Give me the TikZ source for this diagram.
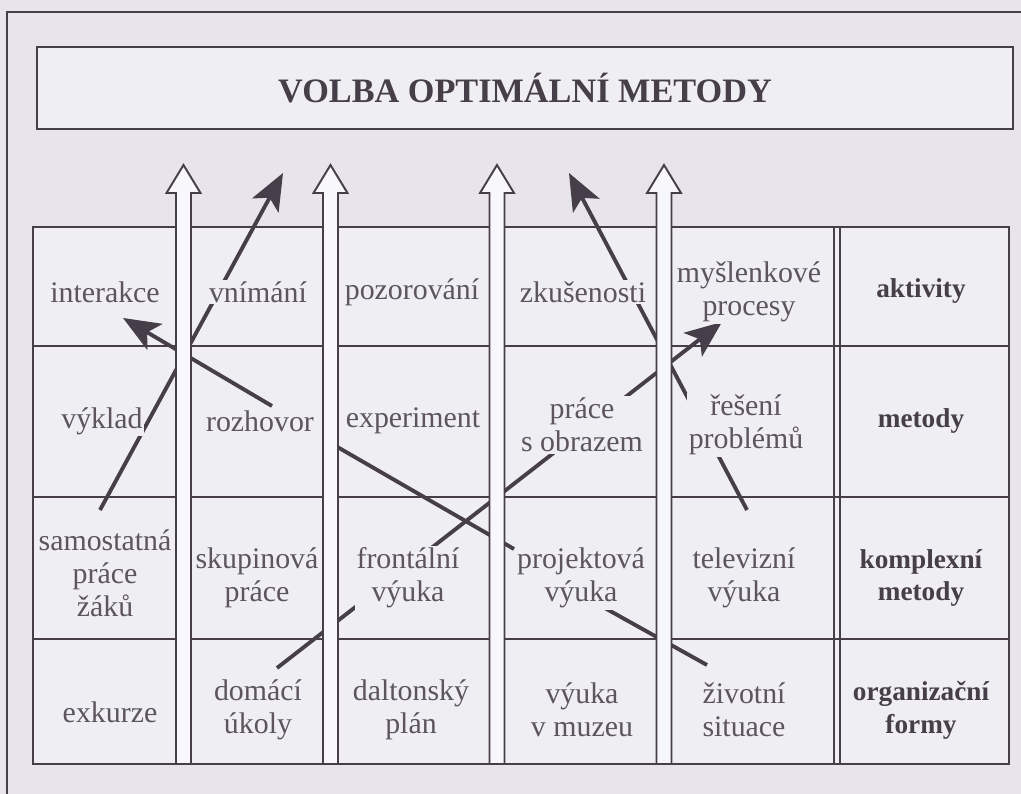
\documentclass[tikz,border=0pt]{standalone}
\usepackage{fontspec}
\setmainfont{Liberation Serif}
\usetikzlibrary{calc}
\usetikzlibrary{arrows.meta}

\definecolor{paper}{RGB}{231,229,235}
\definecolor{cellbg}{RGB}{239,238,243}
\definecolor{ink}{RGB}{70,62,72}
\definecolor{txt}{RGB}{92,84,94}
\definecolor{shaft}{RGB}{248,247,251}

\tikzset{
 cell/.style={align=center, text=txt, fill=cellbg, inner sep=1pt, font=\fontsize{17}{18.7}\selectfont},
 rowhead/.style={cell, text=ink, font=\fontsize{15.5}{18.7}\selectfont\bfseries},
 gridline/.style={draw=ink, line width=1.2pt},
 link/.style={draw=ink, line width=2.2pt},
 linkarrow/.style={link, -{Stealth[length=21pt,width=17pt,inset=5pt]}},
 hollow/.style={draw=ink, line width=1.1pt, fill=shaft, line join=miter},
}

\begin{document}
\begin{tikzpicture}[x=0.02cm, y=-0.02cm]
\useasboundingbox (0,0) rectangle (1021,794);
\fill[paper] (0,0) rectangle (1021,794);
\draw[gridline] (7,794) -- (7,12) -- (1021,12);

\node[draw=ink, line width=1.5pt, fill=cellbg, text=ink, minimum width=19.52cm, minimum height=1.64cm,
 font=\fontsize{19.5}{22}\selectfont\bfseries] (title) at (525,88) {VOLBA OPTIMÁLNÍ METODY};

% table
\fill[cellbg] (33,227) rectangle (1009,764);
\draw[gridline, line width=1.4pt] (33,227) rectangle (1009,764);
\foreach \y in {346, 497, 639}
 \draw[gridline] (33,\y) -- (1009,\y);
\foreach \x in {834, 840}
 \draw[gridline] (\x,227) -- (\x,764);

% links
\coordinate (a1) at (100,510); \coordinate (t1) at (283,173);
\coordinate (a2) at (272,406); \coordinate (t2) at (123,318);
\coordinate (a3) at (327,441); \coordinate (e3) at (514,549);
\coordinate (a4) at (277,668); \coordinate (t4) at (722,322);
\coordinate (a5) at (747,510); \coordinate (t5) at (569,173);
\coordinate (a6) at (603,607); \coordinate (e6) at (707,665);
\draw[linkarrow] (a1) -- (t1);
\draw[linkarrow] (a2) -- (t2);
\draw[link] (a3) -- (e3);
\draw[linkarrow] (a4) -- (t4);
\draw[linkarrow] (a5) -- (t5);
\draw[link] (a6) -- (e6);

\foreach \n/\x/\y/\t in {
 interakce/105/292/interakce, vnimani/258/292/vnímání, pozorovani/412/292/pozorování,
 zkusenosti/583/292/zkušenosti, myslenkove/749/292/{myšlenkové\\procesy},
 vyklad/102/421/výklad, rozhovor/260/421/rozhovor, experiment/413/421/experiment,
 obraz/582/425/{práce\\s obrazem}, reseni/746/425/{řešení\\problémů},
 samostatna/105/573/{samostatná\\práce\\žáků}, skupinova/257/578/{skupinová\\práce},
 frontalni/408/578/{frontální\\výuka}, projektova/581/578/{projektová\\výuka},
 televizni/744/578/{televizní\\výuka},
 exkurze/110/712/exkurze, domaci/258/710/{domácí\\úkoly}, dalton/411/710/{daltonský\\plán},
 muzeum/582/710/{výuka\\v muzeu}, zivotni/744/710/{životní\\situace}}
 \node[cell] (\n) at (\x,\y) {\t};

\foreach \n/\y/\t in {aktivity/291/aktivity, metody/421/metody,
 komplexni/578/{komplexní\\metody}, organizacni/710/{organizační\\formy}}
 \node[rowhead] (\n) at (921,\y) {\t};

% white arrows
\foreach \c in {183.5, 330.5, 497, 664}
 \draw[hollow] (\c-7.5,764) -- (\c-7.5,193) -- (\c-17,193) -- (\c,165)
  -- (\c+17,193) -- (\c+7.5,193) -- (\c+7.5,764) -- cycle;
\end{tikzpicture}
\end{document}
